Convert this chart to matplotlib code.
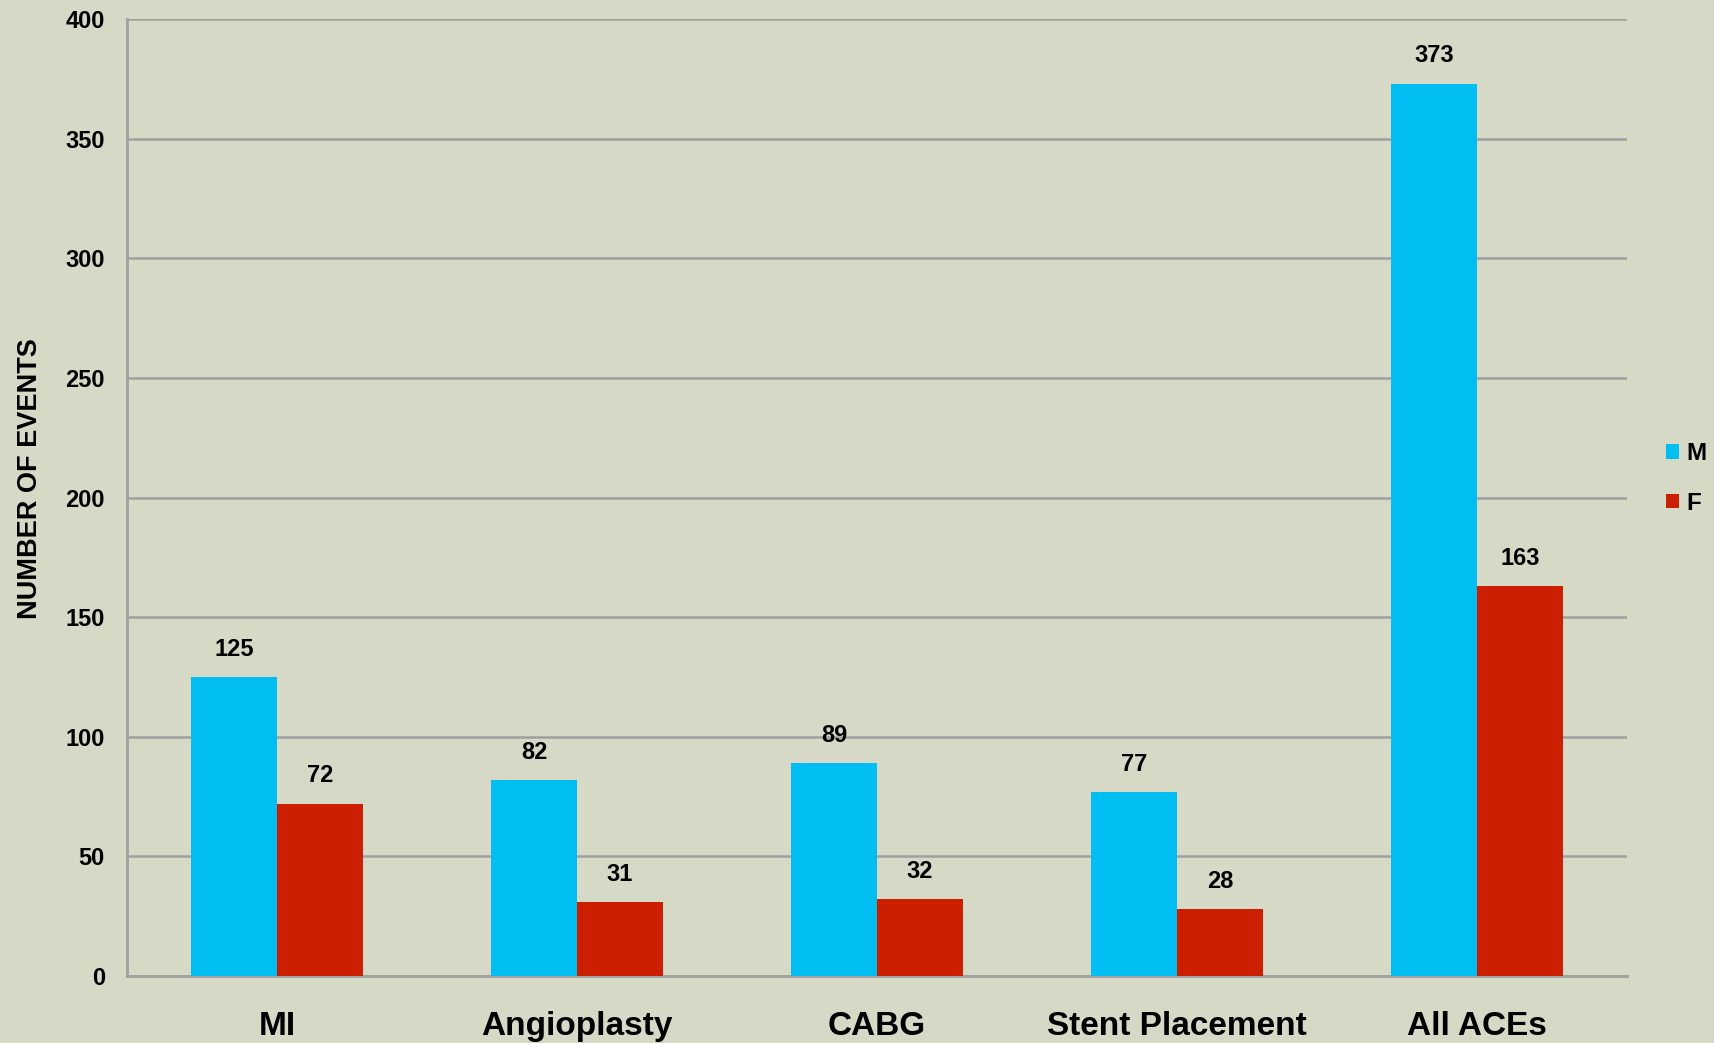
import numpy as np
import matplotlib.pyplot as plt

categories = ['MI', 'Angioplasty', 'CABG', 'Stent Placement', 'All ACEs']
male = [125, 82, 89, 77, 373]
female = [72, 31, 32, 28, 163]
y_ticks = [0, 50, 100, 150, 200, 250, 300, 350, 400]

bg = '#D6D9C5'
blue = '#00BDF2'
red = '#CC1F00'
grid = '#A0A0A0'

plt.rcParams['font.family'] = ['Liberation Sans', 'DejaVu Sans']

fig = plt.figure(figsize=(17.14, 10.43), dpi=100, facecolor=bg)
ax = fig.add_axes([0.0741, 0.0642, 0.8752, 0.9176], facecolor=bg)

x = np.arange(len(categories))
w = 0.286
b1 = ax.bar(x - w / 2, male, w, color=blue, label='M', zorder=3)
b2 = ax.bar(x + w / 2, female, w, color=red, label='F', zorder=3)

# value labels above each bar
for bars in (b1, b2):
    for rect in bars:
        ax.annotate(f'{int(rect.get_height())}',
                    (rect.get_x() + rect.get_width() / 2, rect.get_height()),
                    xytext=(0, 20), textcoords='offset points',
                    ha='center', va='center', fontsize=17, fontweight='bold')

ax.set_xlim(-0.5, len(categories) - 0.5)
ax.set_ylim(0, 400)
ax.set_yticks(y_ticks)
ax.set_yticklabels([str(v) for v in y_ticks], fontsize=17, fontweight='bold')
ax.set_xticks(x)
ax.set_xticklabels(categories, fontsize=24, fontweight='bold')
ax.tick_params(axis='x', length=0, pad=25)
ax.tick_params(axis='y', length=0, pad=16)
ax.yaxis.grid(True, color=grid, linewidth=1.8, zorder=0)

for s in ['top', 'right']:
    ax.spines[s].set_visible(False)
for s in ['left', 'bottom']:
    ax.spines[s].set_color(grid)
    ax.spines[s].set_linewidth(2)

ax.set_ylabel('NUMBER OF EVENTS', fontsize=19.5, fontweight='bold')
ax.yaxis.set_label_coords(-0.056, 0.52)

ax.legend(loc='center left', bbox_to_anchor=(1.0, 0.52), frameon=False,
          prop={'size': 17.5, 'weight': 'bold'}, handlelength=0.55, handleheight=0.55,
          handletextpad=0.3, labelspacing=1.1, borderaxespad=1.2)

fig.savefig('out.png', dpi=100, facecolor=bg)
